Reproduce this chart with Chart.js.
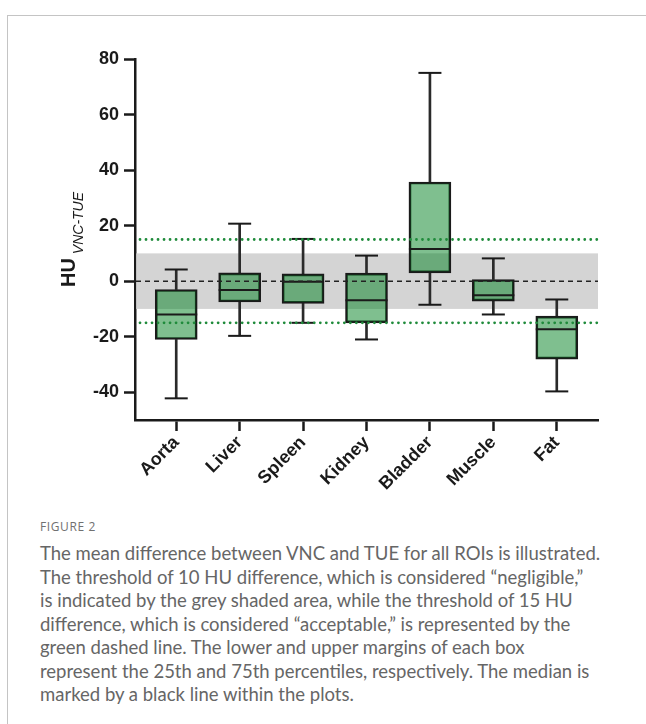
<!DOCTYPE html>
<html>
<head>
<meta charset="utf-8">
<script src="https://cdn.jsdelivr.net/npm/chart.js@4.4.1/dist/chart.umd.min.js"></script>
<style>
  html, body { margin: 0; padding: 0; background: #fff; }
  body { width: 646px; height: 724px; overflow: hidden; position: relative; }
  .frame { position: absolute; left: 7px; top: 15px; width: 700px; height: 760px; border-top: 1px solid #c4c4c4; border-left: 1px solid #c4c4c4; }
  #chart { position: absolute; left: 0; top: 0; }
  .fig-label { position: absolute; left: 40px; top: 518px; font: 400 12px "Open Sans", sans-serif; letter-spacing: 0.6px; color: #707070; }
  .caption { position: absolute; left: 40px; top: 542px; font: 400 18.5px/23.5px Lato, sans-serif; color: #666; white-space: nowrap; }
</style>
</head>
<body>
<div class="frame"></div>
<canvas id="chart" width="646" height="515"></canvas>
<div class="fig-label">FIGURE 2</div>
<div class="caption">The mean difference between VNC and TUE for all ROIs is illustrated.<br>The threshold of 10 HU difference, which is considered “negligible,”<br>is indicated by the grey shaded area, while the threshold of 15 HU<br>difference, which is considered “acceptable,” is represented by the<br>green dashed line. The lower and upper margins of each box<br>represent the 25th and 75th percentiles, respectively. The median is<br>marked by a black line within the plots.</div>
<script>
// box plot values (HU, VNC - TUE)
const categories  = ['Aorta', 'Liver', 'Spleen', 'Kidney', 'Bladder', 'Muscle', 'Fat'];
const whiskerLow  = [-42.2, -19.7, -15.0, -21.0, -8.5, -12.0, -39.7];
const quartile1   = [-21.0, -7.5, -8.0, -15.0, 3.0, -7.2, -28.1];
const medians     = [-12.0, -3.2, -0.2, -6.9, 11.6, -5.1, -17.3];
const quartile3   = [-3.0, 3.0, 2.6, 2.9, 35.7, 0.6, -12.6];
const whiskerHigh = [4.2, 20.7, 15.2, 9.2, 75.0, 8.2, -6.6];
const yTicks = [-40, -20, 0, 20, 40, 60, 80];
const negligibleHU = 10;
const acceptableHU = 15;

const idx = categories.map((c, i) => i);
const boxData = idx.map(i => ({x: i, y: [quartile1[i], quartile3[i]]}));
const upperWhisker = idx.map(i => ({x: i, y: [quartile3[i], whiskerHigh[i]]}));
const lowerWhisker = idx.map(i => ({x: i, y: [whiskerLow[i], quartile1[i]]}));
const medianPts = idx.map(i => ({x: i, y: medians[i]}));
const capPts = idx.flatMap(i => [{x: i, y: whiskerLow[i]}, {x: i, y: whiskerHigh[i]}]);

const axisFont = {family: '"Liberation Sans", Arial, sans-serif', size: 18, weight: 'bold'};
const ink = '#1a1a1a';

// grey "negligible" band, green "acceptable" lines, zero line and the y title
const thresholds = {
	id: 'thresholds',
	beforeDatasetsDraw(chart){
		const {ctx, chartArea: a, scales: {y}} = chart;
		const top = y.getPixelForValue(negligibleHU);
		const bottom = y.getPixelForValue(-negligibleHU);
		ctx.save();
		ctx.fillStyle = '#d4d4d4';
		ctx.fillRect(a.left + 1.25, top, a.right - a.left - 1.25, bottom - top);
		ctx.restore();
	},
	afterDatasetsDraw(chart){
		const {ctx, chartArea: a, scales: {y}} = chart;
		ctx.save();
		// dotted green lines at +/- acceptable
		ctx.strokeStyle = '#1f8b3b';
		ctx.lineWidth = 2.8;
		ctx.lineCap = 'round';
		ctx.setLineDash([0.01, 6]);
		[acceptableHU, -acceptableHU].forEach(v => {
			const py = y.getPixelForValue(v);
			ctx.beginPath();
			ctx.moveTo(a.left + 5, py);
			ctx.lineTo(a.right, py);
			ctx.stroke();
		});
		// dashed zero line
		ctx.strokeStyle = '#222';
		ctx.lineWidth = 1.5;
		ctx.lineCap = 'butt';
		ctx.setLineDash([5, 4]);
		const y0 = y.getPixelForValue(0);
		ctx.beginPath();
		ctx.moveTo(a.left + 1, y0);
		ctx.lineTo(a.right, y0);
		ctx.stroke();
		ctx.restore();
	},
	afterDraw(chart){
		const {ctx, chartArea: a} = chart;
		const mid = (a.top + a.bottom) / 2;
		ctx.save();
		ctx.font = 'bold 20px "Liberation Sans", Arial, sans-serif';
		const wMain = ctx.measureText('HU').width;
		ctx.font = 'italic 14px "Liberation Sans", Arial, sans-serif';
		const wSub = ctx.measureText('VNC-TUE').width;
		const gap = 4;
		const total = wMain + gap + wSub;
		ctx.translate(75, mid + total / 2);
		ctx.rotate(-Math.PI / 2);
		ctx.fillStyle = ink;
		ctx.textBaseline = 'alphabetic';
		ctx.textAlign = 'left';
		ctx.font = 'bold 20px "Liberation Sans", Arial, sans-serif';
		ctx.fillText('HU', 0, 0);
		ctx.font = 'italic 14px "Liberation Sans", Arial, sans-serif';
		ctx.fillText('VNC-TUE', wMain + gap, 7.5);
		ctx.restore();
	}
};

new Chart(document.getElementById('chart'), {
	type: 'bar',
	data: {
		datasets: [
			{type: 'line', data: medianPts, showLine: false, pointStyle: 'line', pointRadius: 21, pointBorderWidth: 2, pointBorderColor: ink, order: 1},
			{type: 'line', data: capPts, showLine: false, pointStyle: 'line', pointRadius: 11.5, pointBorderWidth: 2, pointBorderColor: ink, order: 1},
			{data: boxData, grouped: false, barThickness: 42, backgroundColor: 'rgba(0,128,32,0.5)', borderColor: ink, borderWidth: 2, borderSkipped: false, order: 2},
			{data: upperWhisker, grouped: false, barThickness: 2, backgroundColor: '#2a2a2a', borderWidth: 0, order: 3},
			{data: lowerWhisker, grouped: false, barThickness: 2, backgroundColor: '#2a2a2a', borderWidth: 0, order: 3}
		]
	},
	options: {
		responsive: false,
		devicePixelRatio: 1,
		animation: false,
		layout: {padding: {left: 0, top: 59, right: 48, bottom: 0}},
		plugins: {legend: {display: false}, tooltip: {enabled: false}},
		scales: {
			x: {
				type: 'linear', min: -0.65, max: 6.65, offset: false,
				afterBuildTicks: s => { s.ticks = idx.map(v => ({value: v})); },
				afterFit: s => { s.height = 95; },
				ticks: {autoSkip: false, minRotation: 45, maxRotation: 45, color: ink, font: axisFont, padding: 1, callback: v => categories[v]},
				grid: {offset: false, drawOnChartArea: false, drawTicks: true, tickLength: 11, tickWidth: 2.5, tickColor: ink},
				border: {display: true, color: ink, width: 2.5}
			},
			y: {
				min: -50, max: 80,
				afterBuildTicks: s => { s.ticks = yTicks.map(v => ({value: v})); },
				afterFit: s => { s.width = 135; },
				ticks: {color: ink, font: axisFont, padding: 5},
				grid: {drawOnChartArea: false, drawTicks: true, tickLength: 11, tickWidth: 2.5, tickColor: ink},
				border: {display: true, color: ink, width: 2.5}
			}
		}
	},
	plugins: [thresholds]
});
</script>
</body>
</html>
